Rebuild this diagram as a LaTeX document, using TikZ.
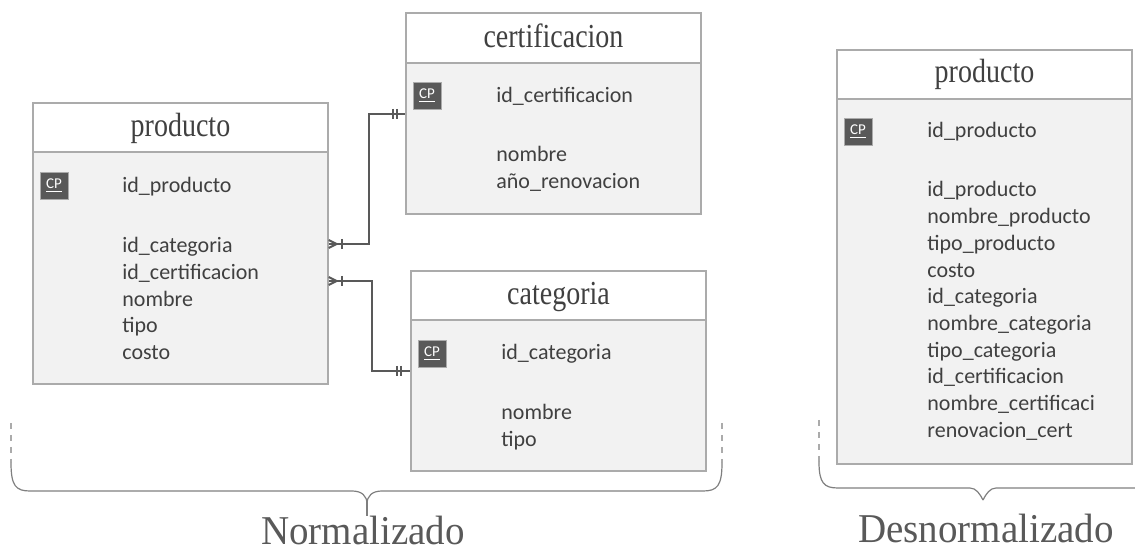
\documentclass[tikz,border=0pt]{standalone}
\usepackage{fontspec}
\setmainfont{Carlito}
\newfontfamily\titulo{Liberation Serif}
\usetikzlibrary{fit}

\definecolor{borde}{HTML}{ABABAB}
\definecolor{fondo}{HTML}{F2F2F2}
\definecolor{linea}{HTML}{595959}
\definecolor{texto}{HTML}{404040}
\definecolor{llave}{HTML}{7F7F7F}

\newcommand{\alto}[1]{\scalebox{1}[1.2]{#1}}
\newcommand{\altolbl}[1]{\scalebox{1}[1.05]{#1}}

\tikzset{
  cabecera/.style={draw=borde, line width=0.7pt, fill=white, inner sep=0pt},
  cuerpo/.style={draw=borde, line width=0.7pt, fill=fondo, inner sep=0pt},
  titulotab/.style={font=\titulo\fontsize{14}{16}\selectfont, text=texto, anchor=base, inner sep=0pt},
  campo/.style={font=\fontsize{11}{13}\selectfont, text=texto, anchor=base west, inner sep=0pt},
  cp/.style={fill=linea, draw=borde, line width=0.3pt, minimum width=14pt, minimum height=13.5pt,
    inner sep=0pt, text=white, font=\fontsize{7.5}{8}\selectfont},
  rel/.style={draw=linea, line width=1pt},
  llave/.style={draw=llave, line width=0.6pt},
  guia/.style={draw=borde, line width=0.6pt, dashed},
  etiqueta/.style={font=\titulo\fontsize{19.5}{22}\selectfont, text=linea, anchor=base, inner sep=0pt}
}

\begin{document}
\begin{tikzpicture}[x=0.5pt,y=-0.5pt]
   \useasboundingbox (0,0) rectangle (1135,550);

   % producto (normalizado)
   \node[cabecera, fit={(33,103) (328,152)}] (prod-cab) {};
   \node[cuerpo, fit={(33,152) (328,384)}] (prod) {};
   \node[titulotab] (prod-tit) at (180.5,137) {\alto{producto}};
   \node[cp] (prod-cp) at (54,185.5) {\underline{CP}};
   \node[campo] (prod-id) at (122,193) {id\_producto};
   \node[campo] (prod-idcat) at (122,253) {id\_categoria};
   \node[campo] (prod-idcert) at (122,279.6) {id\_certificacion};
   \node[campo] (prod-nom) at (122,306.2) {nombre};
   \node[campo] (prod-tipo) at (122,332.8) {tipo};
   \node[campo] (prod-costo) at (122,359.4) {costo};

   % certificacion
   \node[cabecera, fit={(406,13) (701,63)}] (cert-cab) {};
   \node[cuerpo, fit={(406,63) (701,214)}] (cert) {};
   \node[titulotab] (cert-tit) at (553.5,48) {\alto{certificacion}};
   \node[cp] (cert-cp) at (427,96) {\underline{CP}};
   \node[campo] (cert-id) at (496,103) {id\_certificacion};
   \node[campo] (cert-nom) at (496,162) {nombre};
   \node[campo] (cert-anio) at (496,188.6) {año\_renovacion};

   % categoria
   \node[cabecera, fit={(411,271) (706,320)}] (cat-cab) {};
   \node[cuerpo, fit={(411,320) (706,471)}] (cat) {};
   \node[titulotab] (cat-tit) at (558.5,305) {\alto{categoria}};
   \node[cp] (cat-cp) at (432,353.5) {\underline{CP}};
   \node[campo] (cat-id) at (501,360) {id\_categoria};
   \node[campo] (cat-nom) at (501,420) {nombre};
   \node[campo] (cat-tipo) at (501,446.6) {tipo};

   % producto (desnormalizado)
   \node[cabecera, fit={(837,50) (1132,99)}] (dprod-cab) {};
   \node[cuerpo, fit={(837,99) (1132,464)}] (dprod) {};
   \node[titulotab] (dprod-tit) at (984.5,83) {\alto{producto}};
   \node[cp] (dprod-cp) at (858,132) {\underline{CP}};
   \node[campo] (dprod-pk) at (927,138) {id\_producto};
   \node[campo] (dprod-id) at (927,197) {id\_producto};
   \node[campo] (dprod-nomp) at (927,223.7) {nombre\_producto};
   \node[campo] (dprod-tipop) at (927,250.4) {tipo\_producto};
   \node[campo] (dprod-costo) at (927,277.1) {costo};
   \node[campo] (dprod-idcat) at (927,303.8) {id\_categoria};
   \node[campo] (dprod-nomc) at (927,330.5) {nombre\_categoria};
   \node[campo] (dprod-tipoc) at (927,357.2) {tipo\_categoria};
   \node[campo] (dprod-idcert) at (927,383.9) {id\_certificacion};
   \node[campo] (dprod-nomcert) at (927,410.6) {nombre\_certificaci};
   \node[campo] (dprod-renov) at (927,437.3) {renovacion\_cert};

   % relaciones
   \coordinate (k1) at (369,244);
   \coordinate (k2) at (369,114);
   \coordinate (k3) at (372,281);
   \coordinate (k4) at (372,371);

   \draw[rel] (prod.east |- k1) -- (k1) -- (k2) -- (cert.west |- k2);
   \draw[rel] (prod.east |- k1) ++(0,-4) -- ++(8,4) -- ++(-8,4);
   \draw[rel] (prod.east |- k1) ++(13,-5) -- ++(0,10);
   \draw[rel] (cert.west |- k2) ++(-12,-5) -- ++(0,10);
   \draw[rel] (cert.west |- k2) ++(-8,-5) -- ++(0,10);

   \draw[rel] (prod.east |- k3) -- (k3) -- (k4) -- (cat.west |- k4);
   \draw[rel] (prod.east |- k3) ++(0,-4) -- ++(8,4) -- ++(-8,4);
   \draw[rel] (prod.east |- k3) ++(13,-5) -- ++(0,10);
   \draw[rel] (cat.west |- k4) ++(-13,-5) -- ++(0,10);
   \draw[rel] (cat.west |- k4) ++(-9,-5) -- ++(0,10);

   % llaves
   \draw[guia] (11,423) -- (11,463);
   \draw[guia] (722,423) -- (722,463);
   \draw[llave] (11,463) .. controls (11,486) and (16,491) .. (30,491) -- (352,491)
      .. controls (362,491) and (367,496) .. (367,504);
   \draw[llave] (722,463) .. controls (722,486) and (717,491) .. (703,491) -- (382,491)
      .. controls (372,491) and (367,496) .. (367,504);
   \draw[llave] (367,500) -- (367,516);
   \node[etiqueta] (norm) at (363,544) {\altolbl{Normalizado}};

   \draw[guia] (819,420) -- (819,462);
   \draw[llave] (819,462) .. controls (819,483) and (824,488) .. (838,488) -- (970,488)
      .. controls (976,488) and (980,494) .. (983,500);
   \draw[llave] (983,500) .. controls (986,494) and (990,488) .. (996,488) -- (1136,488);
   \node[etiqueta] (desnorm) at (986,542) {\altolbl{Desnormalizado}};
\end{tikzpicture}
\end{document}
